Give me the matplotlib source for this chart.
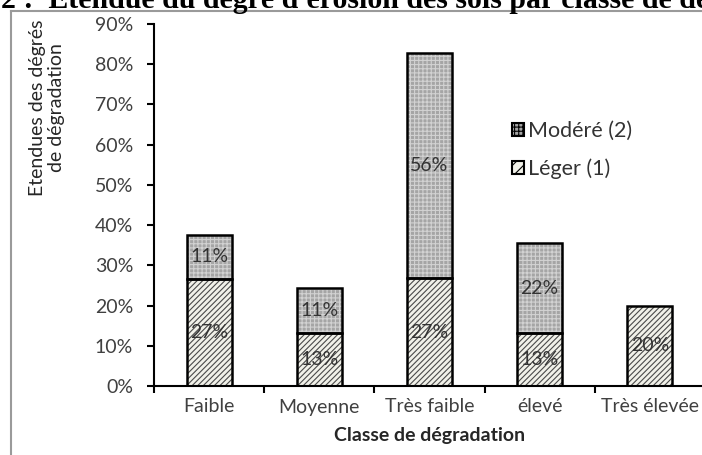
import numpy as np
import matplotlib.pyplot as plt
from matplotlib.patches import Patch
from matplotlib.lines import Line2D

plt.rcParams['font.family'] = ['Lato', 'DejaVu Sans']
plt.rcParams['hatch.linewidth'] = 0.8

classes = ['Faible', 'Moyenne', 'Très faible', 'élevé', 'Très élevée']
leger = [26.7, 13.2, 26.8, 13.2, 20.0]     # Léger (1)
modere = [10.9, 11.2, 56.0, 22.3, 0.0]     # Modéré (2)
leger_lbl = ['27%', '13%', '27%', '13%', '20%']
modere_lbl = ['11%', '11%', '56%', '22%', '']

W, H = 702, 455
fig = plt.figure(figsize=(W / 100, H / 100), dpi=100)
ax = fig.add_axes([154 / W, 69 / H, 551 / W, 362 / H])

x = np.arange(len(classes))
bw = 0.41
leger_c, leger_h = '#f1f1e9', '#4a4a4a'
mod_c, mod_h = '#a5a5a5', '#d2d2d2'

# hatched fills, then black outlines on top
ax.bar(x, leger, bw, color=leger_c, edgecolor=leger_h, hatch='//////', lw=0)
ax.bar(x, modere, bw, bottom=leger, color=mod_c, edgecolor=mod_h, hatch='++++', lw=0)
ax.bar(x, leger, bw, fill=False, edgecolor='black', lw=1.8)
m = np.array(modere) > 0
ax.bar(x[m], np.array(modere)[m], bw, bottom=np.array(leger)[m], fill=False,
       edgecolor='black', lw=1.8)

for i in range(len(classes)):
    ax.text(x[i], leger[i] / 2, leger_lbl[i], ha='center', va='center',
            fontsize=14, color='#333333')
    if modere_lbl[i]:
        ax.text(x[i], leger[i] + modere[i] / 2, modere_lbl[i], ha='center',
                va='center', fontsize=14, color='#333333')

ax.set_xlim(-0.5, 4.5)
ax.set_ylim(0, 90)
ax.set_yticks(np.arange(0, 91, 10))
ax.set_yticklabels([f'{v}%' for v in range(0, 91, 10)], fontsize=14, color='#404040')
ax.set_xticks(x)
ax.set_xticklabels(classes, fontsize=14, color='#404040')
ax.set_xticks(np.arange(-0.5, 5, 1), minor=True)
ax.tick_params(axis='x', which='major', length=0, pad=9)
ax.tick_params(axis='x', which='minor', length=5, width=1.5, direction='out')
ax.tick_params(axis='y', length=5, width=1.5, pad=10)
for s in ['top', 'right']:
    ax.spines[s].set_visible(False)
for s in ['left', 'bottom']:
    ax.spines[s].set_linewidth(1.5)

ax.set_xlabel('Classe de dégradation', fontsize=14, fontweight='bold',
              color='#262626', labelpad=8)
fig.text(47 / W, 1 - 108 / H, 'Etendues des dégrés\nde dégradation', rotation=90,
         ha='center', va='center', fontsize=14, linespacing=1.15, color='#262626')

handles = [Patch(facecolor=mod_c, edgecolor='black', hatch='++++', lw=1.5),
           Patch(facecolor=leger_c, edgecolor='black', hatch='///', lw=1.5)]
fig.legend(handles, ['Modéré (2)', 'Léger (1)'], loc='upper left',
           bbox_to_anchor=(512 / W, 1 - 121 / H), frameon=False, fontsize=15.5,
           borderpad=0, borderaxespad=0, handlelength=0.55, handleheight=0.55,
           handletextpad=0.2, labelspacing=0.8, labelcolor='#333333')

# cropped caption and frame of the source page
fig.text(1 / W, 1 - 8 / H, "2 :  Etendue du degré d'érosion des sols par classe de dégradation",
         family='Liberation Serif', fontweight='bold', fontsize=21.5, ha='left',
         va='baseline', color='black')
fig.add_artist(Line2D([11 / W, 11 / W], [0, 1 - 11 / H], color='#9a9a9a', lw=1.5))
fig.add_artist(Line2D([11 / W, 1], [1 - 11 / H, 1 - 11 / H], color='#9a9a9a', lw=1.5))

fig.savefig('out.png', dpi=100)
